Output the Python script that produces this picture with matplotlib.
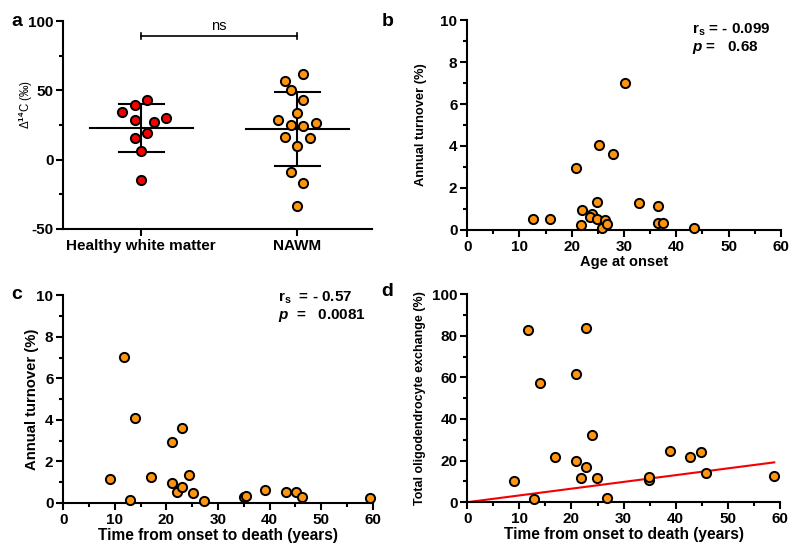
import numpy as np
import matplotlib
matplotlib.use("Agg")
import matplotlib.pyplot as plt
from matplotlib.ticker import MultipleLocator

plt.rcParams['font.family'] = ['Liberation Sans', 'DejaVu Sans']
plt.rcParams['font.weight'] = 'bold'
plt.rcParams['axes.unicode_minus'] = False
plt.rcParams['mathtext.fontset'] = 'custom'
plt.rcParams['mathtext.rm'] = 'Liberation Sans:bold'
plt.rcParams['mathtext.bf'] = 'Liberation Sans:bold'
plt.rcParams['mathtext.it'] = 'Liberation Sans:italic:bold'

# ---- data ----
groups = ["Healthy white matter", "NAWM"]
healthy_vals = [43.3, 39.4, 34.1, 28.8, 27.4, 29.8, 19.2, 15.6, 6.0, -14.4]
healthy_jit = [0.04, -0.04, -0.12, -0.04, 0.08, 0.16, 0.04, -0.04, 0.0, 0.0]
nawm_vals = [62.0, 56.5, 50.0, 42.8, 33.4, 28.4, 26.7, 24.8, 24.0, 16.6, 15.4, 10.1, -8.7, -16.6, -33.4]
nawm_jit = [0.04, -0.08, -0.04, 0.04, 0.0, -0.12, 0.12, -0.04, 0.04, -0.08, 0.08, 0.0, -0.04, 0.04, 0.0]

onset_age = [12.6, 15.8, 20.9, 21.9, 21.8, 23.9, 23.4, 24.8, 24.9, 25.3,
             25.8, 26.3, 26.7, 27.9, 30.2, 32.9, 36.6, 36.6, 37.5, 43.4]
turnover_b = [0.52, 0.52, 2.94, 0.94, 0.22, 0.76, 0.62, 0.52, 1.33, 4.06,
              0.10, 0.46, 0.30, 3.63, 7.02, 1.27, 1.16, 0.32, 0.32, 0.08]

duration_c = [9.0, 11.8, 13.0, 14.0, 17.1, 21.1, 21.1, 22.1, 23.1, 23.1,
              24.3, 25.1, 27.2, 35.0, 35.5, 39.2, 43.2, 45.2, 46.3, 59.4]
turnover_c = [1.15, 7.02, 0.13, 4.08, 1.26, 2.94, 0.94, 0.54, 0.75, 3.63,
              1.34, 0.46, 0.10, 0.30, 0.32, 0.62, 0.51, 0.54, 0.30, 0.22]

duration_d = [9.0, 11.7, 12.9, 14.0, 16.8, 20.9, 20.9, 21.9, 22.8, 22.8,
              24.0, 24.9, 26.9, 34.8, 34.8, 38.9, 42.8, 44.8, 45.8, 58.9]
exchange_d = [10.4, 82.9, 1.6, 57.2, 21.5, 61.7, 19.7, 11.5, 17.1, 83.8,
              32.4, 11.5, 2.1, 10.9, 11.9, 24.7, 21.6, 23.9, 13.8, 12.7]
fit_slope_d = 0.325

stats_b = ("- 0.099", "0.68")
stats_c = ("- 0.57", "0.0081")

# ---- style ----
ORANGE = '#FF9410'
RED = '#F50000'
LW = 1.5
TICKFS = 11
MS = 44
MEW = 1.4

fig = plt.figure(figsize=(8.0, 5.58), dpi=100)


def style_axes(ax):
    for s in ['top', 'right']:
        ax.spines[s].set_visible(False)
    for s in ['left', 'bottom']:
        ax.spines[s].set_linewidth(LW)
    ax.tick_params(which='major', length=5, width=LW, labelsize=TICKFS, pad=2)
    ax.tick_params(which='minor', length=3, width=LW)


# Panel a
axa = fig.add_axes([0.079, 0.590, 0.386, 0.372])
for i, (vals, jit, col) in enumerate([(healthy_vals, healthy_jit, RED), (nawm_vals, nawm_jit, ORANGE)]):
    v = np.array(vals)
    m, sd = v.mean(), v.std(ddof=1)
    axa.plot([i - 0.33, i + 0.33], [m, m], color='black', lw=LW, zorder=2)
    axa.plot([i - 0.145, i + 0.145], [m + sd, m + sd], color='black', lw=LW, zorder=2)
    axa.plot([i - 0.145, i + 0.145], [m - sd, m - sd], color='black', lw=LW, zorder=2)
    axa.plot([i, i], [m - sd, m + sd], color='black', lw=LW, zorder=2)
    axa.scatter(np.array(jit) + i, v, s=MS, c=col, edgecolors='black', linewidths=MEW, zorder=3)
axa.set_xlim(-0.5, 1.48)
axa.set_ylim(-50, 100)
axa.set_xticks([0, 1])
axa.set_xticklabels(groups, fontsize=11)
axa.yaxis.set_major_locator(MultipleLocator(50))
axa.yaxis.set_minor_locator(MultipleLocator(25))
style_axes(axa)
axa.set_ylabel('Δ$^{14}$C (‰)', fontsize=8.3, fontweight='normal')
axa.yaxis.set_label_coords(-0.09, 0.6)
# ns bracket
axa.plot([0, 1], [89.5, 89.5], color='black', lw=1.2, clip_on=False)
axa.plot([0, 0], [87.5, 91.5], color='black', lw=1.2, clip_on=False)
axa.plot([1, 1], [87.5, 91.5], color='black', lw=1.2, clip_on=False)
axa.text(0.5, 91.5, 'ns', ha='center', va='bottom', fontsize=10.5, fontweight='normal')


def scatter_panel(rect, x, y, ylim, ymaj, ymin, ylabel, xlabel, yfs, xfs, ypad):
    ax = fig.add_axes(rect)
    ax.scatter(x, y, s=MS, c=ORANGE, edgecolors='black', linewidths=MEW, zorder=3, clip_on=False)
    ax.set_xlim(0, 60)
    ax.set_ylim(*ylim)
    ax.xaxis.set_major_locator(MultipleLocator(10))
    ax.xaxis.set_minor_locator(MultipleLocator(5))
    ax.yaxis.set_major_locator(MultipleLocator(ymaj))
    ax.yaxis.set_minor_locator(MultipleLocator(ymin))
    style_axes(ax)
    ax.set_ylabel(ylabel, fontsize=yfs, fontweight='bold', labelpad=ypad)
    ax.set_xlabel(xlabel, fontsize=xfs, fontweight='bold', labelpad=1)
    return ax


axb = scatter_panel([0.584, 0.588, 0.392, 0.376], onset_age, turnover_b, (0, 10), 2, 1,
                    'Annual turnover (%)', 'Age at onset', 9.3, 10.5, 10)
axc = scatter_panel([0.079, 0.0986, 0.387, 0.3724], duration_c, turnover_c, (0, 10), 2, 1,
                    'Annual turnover (%)', 'Time from onset to death (years)', 10.7, 11.2, -2)
axd = scatter_panel([0.584, 0.100, 0.391, 0.373], duration_d, exchange_d, (0, 100), 20, 10,
                    'Total oligodendrocyte exchange (%)', 'Time from onset to death (years)', 9, 11.2, 4)
xfit = np.array([0, max(duration_d)])
axd.plot(xfit, fit_slope_d * xfit, color=RED, lw=1.5, zorder=2)

# stats text
axb.text(0.717, 0.955, r'$\mathbf{r}_\mathbf{s}$' + ' = ' + stats_b[0], transform=axb.transAxes,
         fontsize=11, fontweight='bold', ha='left', va='center')
axb.text(0.717, 0.87, r'$p$' + ' =   ' + stats_b[1], transform=axb.transAxes,
         fontsize=11, fontweight='bold', ha='left', va='center')
axc.text(0.694, 0.985, r'$\mathbf{r}_\mathbf{s}$' + '  = ' + stats_c[0], transform=axc.transAxes,
         fontsize=11, fontweight='bold', ha='left', va='center')
axc.text(0.694, 0.90, r'$p$' + '  =   ' + stats_c[1], transform=axc.transAxes,
         fontsize=11, fontweight='bold', ha='left', va='center')

# panel letters
for letter, (x, y) in zip('abcd', [(0.021, 0.962), (0.485, 0.962), (0.021, 0.472), (0.484, 0.478)]):
    fig.text(x, y, letter, fontsize=14, fontweight='bold', ha='center', va='center')

fig.savefig('out.png', dpi=100)
